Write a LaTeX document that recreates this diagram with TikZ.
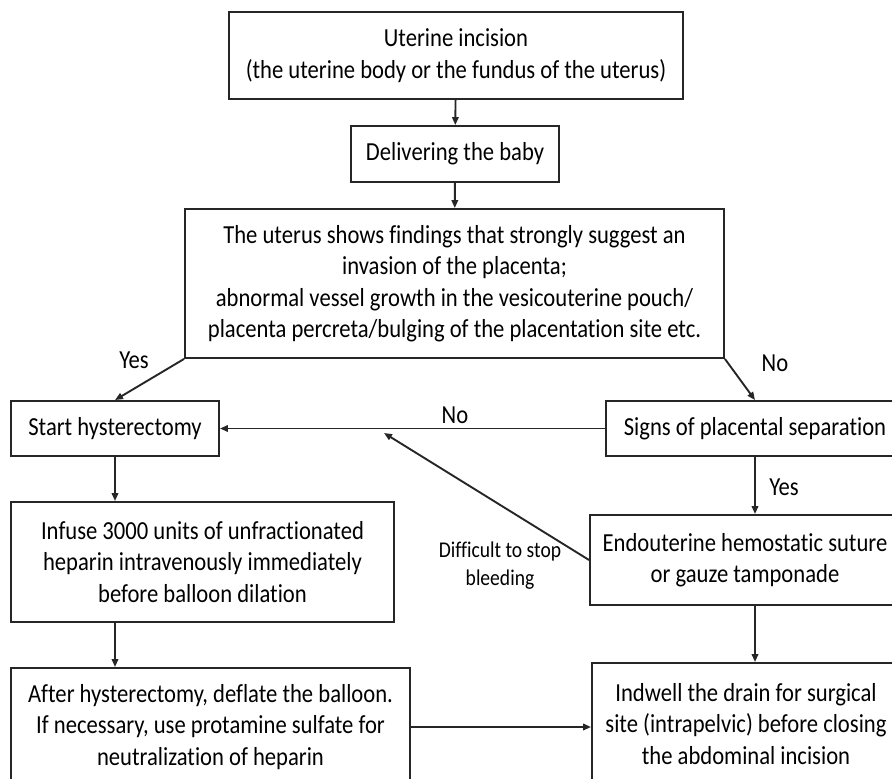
\documentclass[tikz,border=0pt]{standalone}
\usepackage{fontspec}
\setmainfont{Carlito}[FakeStretch=0.87,Ligatures=NoCommon]
\usetikzlibrary{arrows.meta,calc}

\begin{document}
\begin{tikzpicture}[x=1pt,y=-1pt,
  box/.style={draw=black!85,line width=1.9pt,align=center,inner sep=0pt,
    font=\fontsize{26}{31.5}\selectfont},
  lbl/.style={font=\fontsize{26}{31.5}\selectfont},
  arr/.style={draw=black!85,line width=1.9pt,-{Triangle[length=8pt,width=6.5pt]}}]
\useasboundingbox (0,0) rectangle (892,779);

\node[box,minimum width=454pt,minimum height=87pt] (inc) at (456,55.5)
  {Uterine incision\\(the uterine body or the fundus of the uterus)};
\node[box,minimum width=208pt,minimum height=56pt] (baby) at (455,154)
  {Delivering the baby};
\node[box,minimum width=539pt,minimum height=149pt] (find) at (454.5,283.5)
  {The uterus shows findings that strongly suggest an\\invasion of the placenta;\\abnormal vessel growth in the vesicouterine pouch/\\placenta percreta/bulging of the placentation site etc.};
\node[box,minimum width=208pt,minimum height=55pt] (start) at (115,428.5)
  {Start hysterectomy};
\node[box,minimum width=298pt,minimum height=55pt] (signs) at (755,428.5)
  {Signs of placental separation};
\node[box,minimum width=383pt,minimum height=120pt] (infuse) at (202.5,562)
  {Infuse 3000 units of unfractionated\\heparin intravenously immediately\\before balloon dilation};
\node[box,minimum width=310pt,minimum height=90pt] (endo) at (745,560)
  {Endouterine hemostatic suture\\or gauze tamponade};
\node[box,minimum width=399pt,minimum height=118pt] (after) at (210.5,727)
  {After hysterectomy, deflate the balloon.\\If necessary, use protamine sulfate for\\neutralization of heparin};
\node[box,minimum width=308pt,minimum height=122pt] (drain) at (746,724)
  {Indwell the drain for surgical\\site (intrapelvic) before closing\\the abdominal incision};

\coordinate (hit) at (384,433);

\draw[arr] (inc) -- (baby);
\draw[arr] (baby) -- (find);
\draw[arr] (find.south west) -- (start.north);
\draw[arr] (find.south east) -- (signs.north);
\draw[arr] (signs.west) -- (start.east);
\draw[arr] (endo.west) -- (hit);
\draw[arr] (start.south) -- (start.south |- infuse.north);
\draw[arr] (start.south |- infuse.south) -- (start.south |- after.north);
\draw[arr] (signs.south) -- (signs.south |- endo.north);
\draw[arr] (signs.south |- endo.south) -- (signs.south |- drain.north);
\draw[arr] (after.east) -- (after.east -| drain.west);

\node[lbl] (yes1) at (134,360) {Yes};
\node[lbl] (no1) at (775,363) {No};
\node[lbl] (no2) at (455,415) {No};
\node[lbl] (yes2) at (784,487) {Yes};
\node[align=center,font=\fontsize{22.5}{28}\selectfont] (hard) at (500,566)
  {Difficult to stop\\bleeding};
\end{tikzpicture}
\end{document}
